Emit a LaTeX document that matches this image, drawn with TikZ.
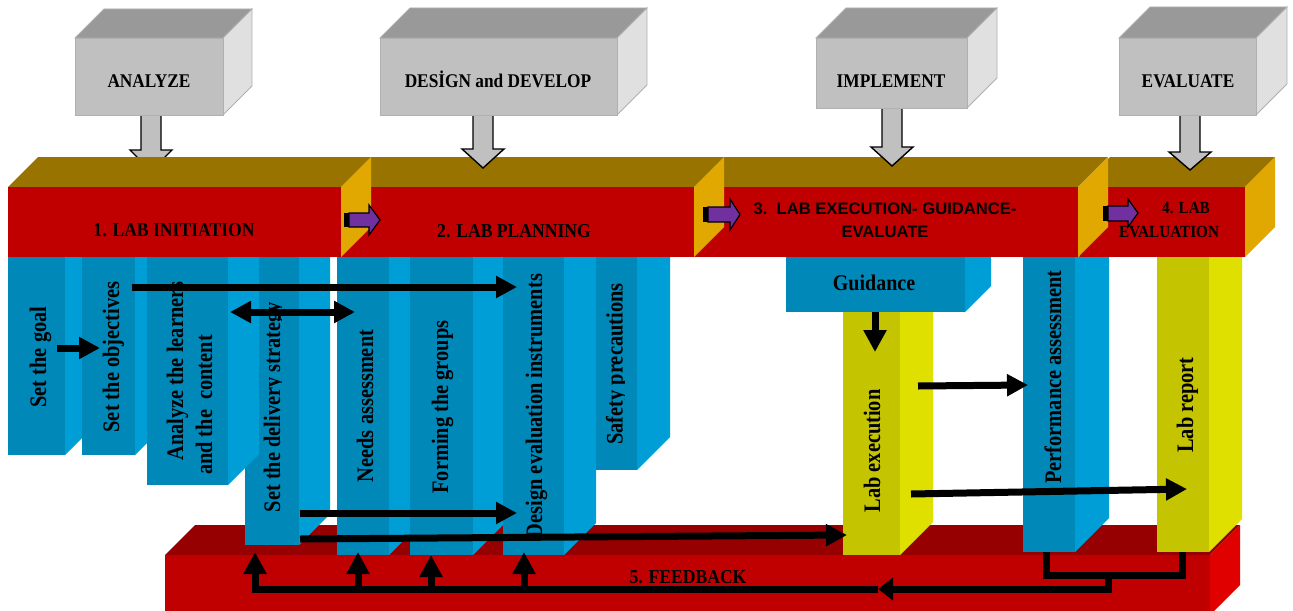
\documentclass[tikz,border=0pt]{standalone}
\usepackage{fontspec}
\setmainfont{Liberation Serif}
\newfontfamily\sansf{Liberation Sans}
\usetikzlibrary{arrows.meta}
\definecolor{gfront}{HTML}{C0C0C0}
\definecolor{gtop}{HTML}{999999}
\definecolor{gside}{HTML}{E0E0E0}
\definecolor{gedge}{HTML}{B0B0B0}
\definecolor{rfront}{HTML}{C00000}
\definecolor{rtop}{HTML}{997300}
\definecolor{rside}{HTML}{E0A800}
\definecolor{bfront}{HTML}{0088B8}
\definecolor{bside}{HTML}{009ED6}
\definecolor{yfront}{HTML}{C4C400}
\definecolor{yside}{HTML}{E0E000}
\definecolor{ftop}{HTML}{960000}
\definecolor{fside}{HTML}{E00000}
\definecolor{purp}{HTML}{7030A0}
% x1, y1(top of front), x2, y2(bottom), depth, front, top, side
\newcommand{\cubo}[8]{%
  \fill[#7] (#1,#2) -- (#1+#5,#2-#5) -- (#3+#5,#2-#5) -- (#3,#2) -- cycle;
  \fill[#8] (#3,#2) -- (#3+#5,#2-#5) -- (#3+#5,#4-#5) -- (#3,#4) -- cycle;
  \fill[#6] (#1,#2) rectangle (#3,#4);
}
\newcommand{\grycubo}[5]{%
  \filldraw[fill=gtop, draw=gedge, line width=0.4pt] (#1,#2) -- (#1+#5,#2-#5) -- (#3+#5,#2-#5) -- (#3,#2) -- cycle;
  \filldraw[fill=gside, draw=gedge, line width=0.4pt] (#3,#2) -- (#3+#5,#2-#5) -- (#3+#5,#4-#5) -- (#3,#4) -- cycle;
  \filldraw[fill=gfront, draw=gedge, line width=0.4pt] (#1,#2) rectangle (#3,#4);
}
\newcommand{\stt}[1]{\scalebox{1}[1.12]{#1}}
\newcommand{\sttc}[1]{\scalebox{1}[1.16]{#1}}
\begin{document}
\begin{tikzpicture}[x=0.5pt,y=-0.5pt,
  lbl/.style={font=\bfseries\fontsize{8.65}{10}\selectfont, inner sep=0pt, anchor=base},
  blbl/.style={font=\bfseries\fontsize{8.8}{10}\selectfont, inner sep=0pt, anchor=base},
  slbl/.style={font=\sansf\bfseries\fontsize{8.3}{10}\selectfont, inner sep=0pt, anchor=base},
  flbl/.style={font=\bfseries\fontsize{7.6}{9}\selectfont, inner sep=0pt, anchor=base},
  coltxt/.style={font=\bfseries\fontsize{10.2}{12}\selectfont, inner sep=0pt, anchor=base, rotate=90},
  gtxt/.style={font=\bfseries\fontsize{10}{12}\selectfont, inner sep=0pt, anchor=base},
  blk/.style={line width=3.5pt, line cap=butt, -{Triangle[width=10.5pt,length=10.5pt]}},
  blkup/.style={line width=3.5pt, line cap=butt, -{Triangle[width=11pt,length=11pt]}},
  fbl/.style={line width=3.5pt, line cap=butt, line join=miter},
  garrow/.style={fill=gfront, draw=black, line width=0.7pt, line join=miter},
  parrow/.style={fill=purp, draw=black, line width=0.6pt, line join=miter}]
\useasboundingbox (0,0) rectangle (1293,610);
\clip (0,0) rectangle (1293,610);

% ANALYZE arrow (behind stage block 1)
\draw[garrow] (141,113) -- (141,150) -- (130,150) -- (151,171) -- (172,150) -- (161,150) -- (161,113) -- cycle;

% feedback block
\cubo{165}{555}{1210}{615}{30}{rfront}{ftop}{fside}

% blue columns (left)
\cubo{8}{250}{65}{455}{29}{bfront}{bfront}{bside}
\cubo{82}{250}{135}{455}{29}{bfront}{bfront}{bside}
\cubo{245}{250}{299}{545}{31}{bfront}{bfront}{bside}
\cubo{147}{250}{228}{485}{31}{bfront}{bfront}{bside}
\cubo{337}{250}{389}{555}{29}{bfront}{bfront}{bside}
\cubo{410}{250}{473}{555}{30}{bfront}{bfront}{bside}
\cubo{596}{250}{637}{470}{33}{bfront}{bfront}{bside}
\cubo{503}{250}{564}{555}{32}{bfront}{bfront}{bside}

% right columns
\cubo{843}{290}{900}{555}{33}{yfront}{yfront}{yside}
\cubo{786}{250}{965}{312}{26}{bfront}{bfront}{bside}
\cubo{1023}{230}{1075}{552}{34}{bfront}{bfront}{bside}
\cubo{1157}{230}{1209}{552}{33}{yfront}{yfront}{yside}

% stage blocks
\cubo{1080}{187}{1245}{257}{30}{rfront}{rtop}{rside}
\cubo{694}{187}{1078}{257}{30}{rfront}{rtop}{rside}
\cubo{341}{187}{694}{257}{30}{rfront}{rtop}{rside}
\cubo{8}{187}{341}{257}{30}{rfront}{rtop}{rside}

% gray arrows
\draw[garrow] (473,113) -- (473,149) -- (462,149) -- (483,168) -- (504,149) -- (493,149) -- (493,113) -- cycle;
\draw[garrow] (882,106) -- (882,147) -- (871,147) -- (892,166) -- (913,147) -- (902,147) -- (902,106) -- cycle;
\draw[garrow] (1180,113) -- (1180,152) -- (1169,152) -- (1190,170) -- (1211,152) -- (1200,152) -- (1200,113) -- cycle;

% gray boxes
\grycubo{75}{38}{223}{115}{29}
\grycubo{380}{38}{617}{115}{30}
\grycubo{816}{38}{967}{108}{30}
\grycubo{1119}{38}{1256}{115}{31}

% purple arrows
\fill[black] (344,213) rectangle (351,227);
\draw[parrow] (349,213) -- (369,213) -- (369,205) -- (380,220) -- (369,235) -- (369,227) -- (349,227) -- cycle;
\fill[black] (703,207) rectangle (710,222);
\draw[parrow] (708,207) -- (730,207) -- (730,199) -- (740,214.5) -- (730,230) -- (730,222) -- (708,222) -- cycle;
\fill[black] (1103,206) rectangle (1110,221);
\draw[parrow] (1108,206) -- (1128,206) -- (1128,199) -- (1138,213) -- (1128,227) -- (1128,221) -- (1108,221) -- cycle;

% top labels
\node[lbl] (an) at (149,88) {\stt{ANALYZE}};
\node[lbl] (dd) at (498,88) {\stt{DESİGN and DEVELOP}};
\node[lbl] (im) at (891,88) {\stt{IMPLEMENT}};
\node[lbl] (ev) at (1188,88) {\stt{EVALUATE}};

% stage labels
\node[blbl] (s1) at (174,236) {\stt{1. LAB INITIATION}};
\node[blbl] (s2) at (514,237) {\stt{2. LAB PLANNING}};
\node[slbl] (s3a) at (885,214) {3.\ \ LAB EXECUTION- GUIDANCE-};
\node[slbl] (s3b) at (885,237) {EVALUATE};
\node[flbl] (s4a) at (1186,213) {\stt{4. LAB}};
\node[flbl] (s4b) at (1169,237) {\stt{EVALUATION}};
\node[blbl] (s5) at (688,583) {\stt{5. FEEDBACK}};

% column texts
\node[coltxt] (t1) at (46,357) {\sttc{Set the goal}};
\node[coltxt] (t2) at (119,357) {\sttc{Set the objectives}};
\begin{scope}
\clip (140,281) rectangle (240,500);
\node[coltxt] (t3a) at (183,371) {\sttc{Analyze the learners}};
\end{scope}
\node[coltxt] (t3b) at (212,405) {\sttc{and the\ \ content}};
\begin{scope}
\clip (240,260) rectangle (281.5,560);
\node[coltxt] (t4) at (280,407) {\sttc{Set the delivery strategy}};
\end{scope}
\node[coltxt] (t5) at (373,406) {\sttc{Needs assessment}};
\node[coltxt] (t6) at (448,407) {\sttc{Forming the groups}};
\node[coltxt] (t7) at (542,406) {\sttc{Design evaluation instruments}};
\begin{scope}
\clip (590,260) rectangle (624,480);
\node[coltxt] (t8) at (622.5,364) {\sttc{Safety precautions}};
\end{scope}
\node[gtxt] (gu) at (874,290) {\stt{Guidance}};
\node[coltxt] (t9) at (880,451) {\sttc{Lab execution}};
\node[coltxt] (t10) at (1061,377) {\sttc{Performance assessment}};
\node[coltxt] (t11) at (1193,405) {\sttc{Lab report}};

% connector end points
\coordinate (goal-r) at (57,348);   \coordinate (obj-l) at (100,348);
\coordinate (obj-r) at (132,287);   \coordinate (dei-t) at (517,287);
\coordinate (ana-r) at (230,312);   \coordinate (need-l) at (355,312);
\coordinate (del-r) at (300,513);   \coordinate (dei-b) at (517,513);
\coordinate (del-r2) at (300,539);  \coordinate (exe-l) at (847,535);
\coordinate (gui-b) at (875,312);   \coordinate (exe-t) at (875,352);
\coordinate (exe-r) at (918,386);   \coordinate (perf-l) at (1028,385);
\coordinate (exe-r2) at (911,494);  \coordinate (rep-l) at (1187,489);
\coordinate (perf-b) at (1046,552); \coordinate (fb-l) at (1046,575);
\coordinate (rep-b) at (1182,552);  \coordinate (fb-r) at (1182,575);
\coordinate (fb-j) at (1108,575);   \coordinate (fb-c) at (1108,589);
\coordinate (fb-m) at (878,589);    \coordinate (fb-end) at (255,589);
\coordinate (del-b) at (255,552);
\coordinate (need-f) at (358,589);  \coordinate (need-b) at (358,552);
\coordinate (form-f) at (431,589);  \coordinate (form-b) at (431,555);
\coordinate (dei-f) at (524,589);   \coordinate (dei-bb) at (524,552);

% black connectors
\draw[blk] (goal-r) -- (obj-l);
\draw[blk] (obj-r) -- (dei-t);
\draw[line width=3.5pt, {Triangle[width=10.5pt,length=10.5pt]}-{Triangle[width=10.5pt,length=10.5pt]}] (ana-r) -- (need-l);
\draw[blk] (del-r) -- (dei-b);
\draw[blk] (del-r2) -- (exe-l);
\draw[blkup] (gui-b) -- (exe-t);
\draw[blk] (exe-r) -- (perf-l);
\draw[blk] (exe-r2) -- (rep-l);

% feedback loop
\draw[fbl] (perf-b) -- (fb-l) -- (fb-r) -- (rep-b);
\draw[fbl, -{Triangle[width=11pt,length=7.5pt]}] (fb-j) -- (fb-c) -- (fb-m);
\draw[blkup, line join=miter] (fb-m) -- (fb-end) -- (del-b);
\draw[blkup] (need-f) -- (need-b);
\draw[blkup] (form-f) -- (form-b);
\draw[blkup] (dei-f) -- (dei-bb);
\end{tikzpicture}
\end{document}
